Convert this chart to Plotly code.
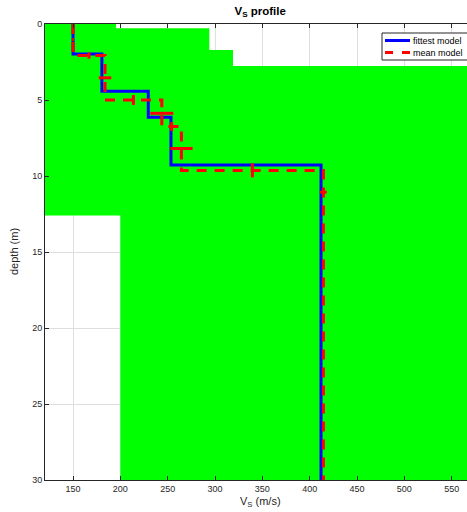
import plotly.graph_objects as go

# ---------------- data ----------------
# fittest model (layer velocities and interface depths)
fit_vs = [150, 180.5, 229.5, 253.5, 412]
fit_iface = [1.97, 4.42, 6.14, 9.28]

# mean model
mean_vs = [150, 183.8, 243.8, 264.5, 414.5]
mean_vs_std = [1.0, 6.6, 12.2, 11.8, 3.5]
mean_iface = [2.08, 5.0, 6.75, 9.63]
mean_iface_std = [0.2, 0.33, 0.3, 0.46]
mean_halfspace_bottom = 12.5

max_depth = 30

# search envelope (green area)
env_right_breaks = [0, 0.28, 1.71, 2.76, 30]
env_right_vs = [195.5, 294, 319, 600]
env_left_breaks = [0, 12.6, 30]
env_left_vs = [100, 200]

x_ticks = [150, 200, 250, 300, 350, 400, 450, 500, 550]
y_ticks = [0, 5, 10, 15, 20, 25, 30]

legend_names = ["fittest model", "mean model"]

# ---------------- build ----------------
fig = go.Figure()

# envelope polygon
px, py = [], []
for i, v in enumerate(env_left_vs):
    px += [v, v]
    py += [env_left_breaks[i], env_left_breaks[i + 1]]
for i in reversed(range(len(env_right_vs))):
    v = env_right_vs[i]
    px += [v, v]
    py += [env_right_breaks[i + 1], env_right_breaks[i]]
fig.add_trace(go.Scatter(x=px, y=py, fill="toself", fillcolor="#00ff00",
                         line=dict(width=0), mode="lines", showlegend=False,
                         hoverinfo="skip"))

# fittest model
fx = fit_vs + [fit_vs[-1]]
fy = [0] + fit_iface + [max_depth]
fig.add_trace(go.Scatter(x=fx, y=fy, mode="lines", line_shape="vh",
                         line=dict(color="#0000ff", width=3),
                         name=legend_names[0], showlegend=False))

# mean model
mx = mean_vs + [mean_vs[-1]]
my = [0] + mean_iface + [max_depth]
fig.add_trace(go.Scatter(x=mx, y=my, mode="lines", line_shape="vh",
                         line=dict(color="#ff0000", width=3, dash="10px,8px"),
                         name=legend_names[1], showlegend=False))

# velocity error bars (mid-depth of each layer)
tops = [0] + mean_iface
bots = mean_iface + [mean_halfspace_bottom]
mid_depths = [(a + b) / 2 for a, b in zip(tops, bots)]
fig.add_trace(go.Scatter(x=mean_vs, y=mid_depths, mode="markers",
                         marker=dict(size=0.1, color="rgba(0,0,0,0)"),
                         error_x=dict(type="data", array=mean_vs_std,
                                      color="#ff0000", thickness=3, width=0),
                         showlegend=False, hoverinfo="skip"))

# depth error bars (mid-velocity at each interface)
mid_vs = [(a + b) / 2 for a, b in zip(mean_vs[:-1], mean_vs[1:])]
fig.add_trace(go.Scatter(x=mid_vs, y=mean_iface, mode="markers",
                         marker=dict(size=0.1, color="rgba(0,0,0,0)"),
                         error_y=dict(type="data", array=mean_iface_std,
                                      color="#ff0000", thickness=3, width=0),
                         showlegend=False, hoverinfo="skip"))

axis_color = "#262626"
grid_color = "#dedede"
font_family = "Liberation Sans, Arial, sans-serif"

fig.update_xaxes(range=[120.4, 566.2], tickvals=x_ticks,
                 ticktext=[str(t) for t in x_ticks],
                 showgrid=True, gridcolor=grid_color, gridwidth=1,
                 zeroline=False, showline=True, linecolor=axis_color,
                 linewidth=1, mirror="ticks", ticks="inside", ticklen=4,
                 tickcolor=axis_color,
                 tickfont=dict(size=9, color=axis_color, family=font_family))
fig.update_yaxes(range=[max_depth, 0], tickvals=y_ticks,
                 ticktext=[str(t) for t in y_ticks],
                 showgrid=True, gridcolor=grid_color, gridwidth=1,
                 zeroline=False, showline=True, linecolor=axis_color,
                 linewidth=1, ticks="inside", ticklen=4,
                 tickcolor=axis_color,
                 tickfont=dict(size=9, color=axis_color, family=font_family))

# ---- manual legend (paper coordinates; plot area 422 x 456 px) ----
PW, PH, L, T = 422.0, 456.0, 45.0, 24.0
def pxx(x):
    return (x - L) / PW
def pyy(y):
    return 1 - (y - T) / PH

shapes = [
    dict(type="rect", xref="paper", yref="paper", layer="above",
         x0=pxx(382), x1=pxx(475), y0=pyy(60), y1=pyy(33),
         line=dict(color=axis_color, width=1), fillcolor="white"),
    dict(type="line", xref="paper", yref="paper", layer="above",
         x0=pxx(385), x1=pxx(410), y0=pyy(40.5), y1=pyy(40.5),
         line=dict(color="#0000ff", width=3)),
    dict(type="line", xref="paper", yref="paper", layer="above",
         x0=pxx(385), x1=pxx(410), y0=pyy(52.5), y1=pyy(52.5),
         line=dict(color="#ff0000", width=3, dash="8px,9px")),
]
annotations = [
    dict(text=legend_names[0], xref="paper", yref="paper", x=pxx(411),
         y=pyy(40.5), xanchor="left", yanchor="middle", showarrow=False,
         font=dict(size=9, color="#000000")),
    dict(text=legend_names[1], xref="paper", yref="paper", x=pxx(411),
         y=pyy(52.5), xanchor="left", yanchor="middle", showarrow=False,
         font=dict(size=9, color="#000000")),
    dict(text="V<sub>S</sub> (m/s)", xref="paper", yref="paper",
         x=0.51, y=-(502 - 480) / 456, xanchor="center", yanchor="middle",
         showarrow=False, font=dict(size=11, color=axis_color)),
    dict(text="depth (m)", xref="paper", yref="paper",
         x=-(45 - 14) / 422, y=0.5, xanchor="center", yanchor="middle",
         textangle=-90, showarrow=False,
         font=dict(size=11, color=axis_color)),
]

fig.update_layout(
    width=467, height=512,
    margin=dict(l=45, r=0, t=24, b=32, autoexpand=False),
    paper_bgcolor="white", plot_bgcolor="white",
    showlegend=False,
    font=dict(family=font_family, color=axis_color),
    title=dict(text="<b>V<sub>S</sub> profile</b>", x=0.51, xanchor="center",
               xref="paper", y=1 - 11 / 512, yref="container",
               yanchor="middle", font=dict(size=11.5, color="#000000")),
    shapes=shapes,
    annotations=annotations,
)

fig.write_html("out.html",
               config={"displayModeBar": False},
               post_script="document.body.style.margin='0';"
                           "document.body.style.padding='0';"
                           "document.body.style.overflow='hidden';")
